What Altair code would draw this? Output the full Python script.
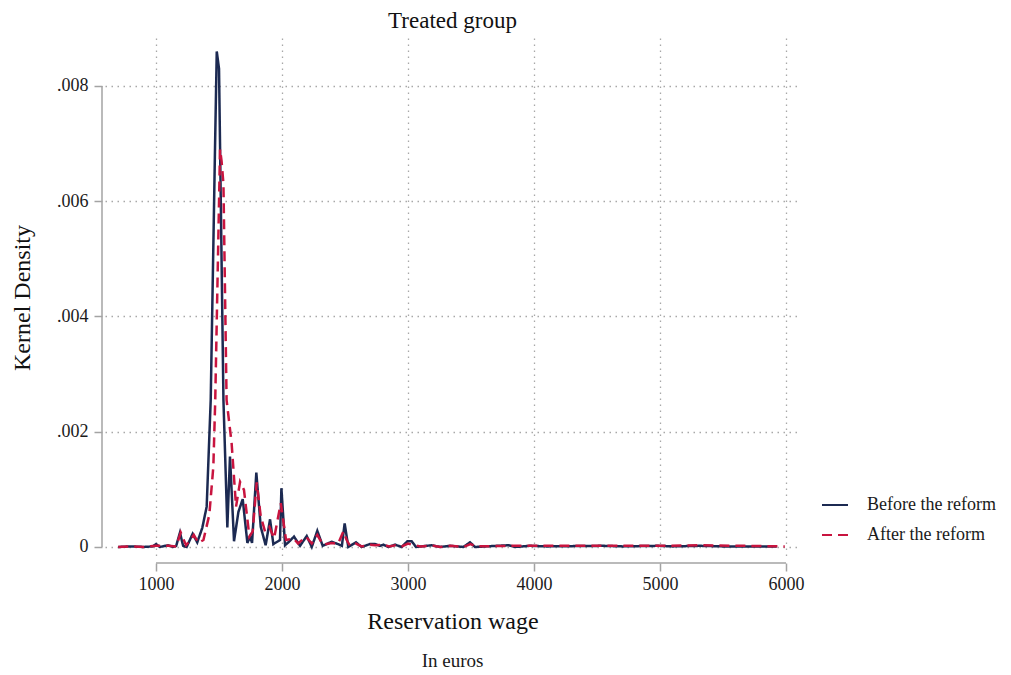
import altair as alt
import pandas as pd

# ---------------- data ----------------
series = ["Before the reform", "After the reform"]

before_x = [700, 800, 900, 975, 1000, 1030, 1095, 1135, 1160, 1190, 1215, 1243, 1291,
            1327, 1367, 1402, 1434, 1468, 1482, 1500, 1535, 1566, 1587, 1619, 1654,
            1688, 1725, 1746, 1762, 1796, 1831, 1870, 1905, 1931, 1984, 1995, 2024,
            2060, 2095, 2143, 2196, 2236, 2280, 2323, 2394, 2444, 2475, 2497, 2526,
            2587, 2632, 2698, 2738, 2778, 2804, 2844, 2897, 2950, 2995, 3029, 3063,
            3188, 3254, 3333, 3439, 3492, 3532, 3796, 3850, 3968, 4100, 4548, 4700,
            4984, 5100, 5317, 5500, 5926]
before_y = [0.0, 0.00001, 0.0, 0.00001, 0.00005, 0.0, 0.00003, 0.0, 0.00002, 0.00025,
            0.00002, 0.0, 0.00023, 0.00008, 0.00033, 0.0007, 0.00255, 0.0069, 0.0086,
            0.0083, 0.00255, 0.00034, 0.00157, 0.0001, 0.00061, 0.00083, 0.00007,
            0.00018, 0.00007, 0.00129, 0.00035, 0.00003, 0.00048, 0.00005, 0.00012,
            0.00102, 0.00003, 0.0001, 0.00018, 0.00002, 0.00019, 0.0, 0.00028,
            0.00002, 0.00009, 0.00005, 0.00002, 0.00041, 0.0, 0.00008, 0.0, 0.00005,
            0.00005, 0.00002, 0.00004, 0.0, 0.00004, 0.0, 0.0001, 0.0001, 0.0,
            0.00003, 0.0, 0.00002, 0.0, 0.00008, 0.0, 0.00003, 0.0, 0.00002, 0.00001,
            0.00002, 0.00001, 0.00002, 0.00001, 0.00002, 0.00001, 0.00001]

after_x = [700, 800, 900, 1000, 1100, 1160, 1196, 1238, 1275, 1300, 1336, 1376, 1423,
           1455, 1470, 1508, 1520, 1535, 1560, 1600, 1635, 1667, 1698, 1741, 1767,
           1799, 1831, 1865, 1899, 1937, 1990, 2032, 2090, 2127, 2190, 2236, 2280,
           2323, 2394, 2444, 2487, 2513, 2540, 2587, 2632, 2700, 2740, 2800, 2850,
           2900, 2950, 3000, 3030, 3100, 3200, 3260, 3340, 3440, 3495, 3540, 3800,
           4000, 4548, 5000, 5317, 5990]
after_y = [0.0, 0.00001, 0.0, 0.00002, 0.00002, 0.00001, 0.00025, 0.00003, 0.00012,
           0.00021, 0.00007, 0.00012, 0.00056, 0.0014, 0.00255, 0.0069, 0.0067, 0.0063,
           0.00255, 0.0018, 0.0007, 0.00113, 0.00099, 0.00018, 0.00027, 0.00112,
           0.00053, 0.00027, 0.00035, 0.00015, 0.00076, 0.00012, 0.00015, 0.00006,
           0.00018, 0.00006, 0.00021, 0.00004, 0.00007, 0.00005, 0.00027, 0.00012,
           0.00002, 0.00006, 0.00001, 0.00004, 0.00003, 0.00004, 0.00001, 0.00003,
           0.00001, 0.00006, 0.00004, 0.00001, 0.00002, 0.0, 0.00002, 0.0, 0.00005,
           0.00001, 0.00002, 0.00002, 0.00002, 0.00002, 0.00003, 0.00001]

x_ticks = [1000, 2000, 3000, 4000, 5000, 6000]
y_ticks = [0, 0.002, 0.004, 0.006, 0.008]

# ---------------- styling ----------------
FONT = "Liberation Serif"
NAVY = "#1c2a52"
RED = "#c8143f"
AXIS_GREY = "#a3a3a3"
GRID_GREY = "#a8a8a8"
TXT = "#1a1a1a"
W, H = 695, 519

df = pd.concat([
    pd.DataFrame({"wage": before_x, "density": before_y, "group": series[0],
                  "ord": range(len(before_x))}),
    pd.DataFrame({"wage": after_x, "density": after_y, "group": series[1],
                  "ord": range(len(after_x))}),
], ignore_index=True)

xscale = alt.Scale(domain=[595, 6111], nice=False, zero=False)
yscale = alt.Scale(domain=[-0.000174, 0.008833], nice=False, zero=False)

common_axis = dict(labelFont=FONT, titleFont=FONT, labelFontSize=18, titleFontSize=24,
                   titleFontWeight="normal", labelColor=TXT, titleColor="#111111",
                   domain=False, tickSize=8, tickWidth=1.5, tickColor=AXIS_GREY,
                   grid=True, gridDash=[1.5, 4.5], gridColor=GRID_GREY, gridWidth=1.3)

x_axis = alt.Axis(values=x_ticks, format="d", title="Reservation wage",
                  offset=6, labelPadding=4, titlePadding=16, **common_axis)
y_axis = alt.Axis(values=y_ticks,
                  labelExpr="datum.value == 0 ? '0' : replace(format(datum.value, '.3f'), '0.', '.')",
                  title="Kernel Density", offset=3, labelPadding=6, titlePadding=22,
                  **common_axis)

legend_kw = dict(title=None, orient="none", legendX=716, legendY=453,
                 symbolType="stroke", symbolSize=676, symbolStrokeWidth=2,
                 labelFont=FONT, labelFontSize=18, labelColor=TXT,
                 labelOffset=18, rowPadding=7, padding=0)

lines = alt.Chart(df).mark_line(strokeWidth=2.5).encode(
    x=alt.X("wage:Q", scale=xscale, axis=x_axis),
    y=alt.Y("density:Q", scale=yscale, axis=y_axis),
    color=alt.Color("group:N", scale=alt.Scale(domain=series, range=[NAVY, RED]),
                    legend=alt.Legend(**legend_kw)),
    strokeDash=alt.StrokeDash("group:N",
                              scale=alt.Scale(domain=series, range=[[1, 0], [10, 6]]),
                              legend=alt.Legend(**legend_kw)),
    order="ord:Q",
)

y_axis_line = alt.Chart(pd.DataFrame({"density": [y_ticks[0]],
                                      "hi": [y_ticks[-1]]})).mark_rule(
    color=AXIS_GREY, strokeWidth=1.5).encode(
    x=alt.value(-3),
    y=alt.Y("density:Q", scale=yscale, axis=y_axis),
    y2="hi:Q",
)

x_axis_line = alt.Chart(pd.DataFrame({"wage": [x_ticks[0]], "hi": [x_ticks[-1]]})).mark_rule(
    color=AXIS_GREY, strokeWidth=1.5).encode(
    y=alt.value(H + 6),
    x=alt.X("wage:Q", scale=xscale, axis=x_axis),
    x2="hi:Q",
)

note = alt.Chart(pd.DataFrame({"t": ["In euros"]})).mark_text(
    font=FONT, fontSize=19, color=TXT, baseline="middle", align="center").encode(
    text="t:N",
    x=alt.value(W / 2),
    y=alt.value(H + 104),
)

chart = alt.layer(lines, y_axis_line, x_axis_line, note).properties(
    width=W, height=H,
    background="white",
    title=alt.TitleParams("Treated group", font=FONT, fontSize=23, fontWeight="normal",
                          color="#111111", anchor="middle", offset=5),
    autosize=alt.AutoSizeParams(type="none"),
    padding={"left": 97, "top": 30, "right": 203, "bottom": 117},
).configure_view(strokeWidth=0, stroke="transparent")

chart.save("out.html", embed_options={"renderer": "svg", "actions": False})
